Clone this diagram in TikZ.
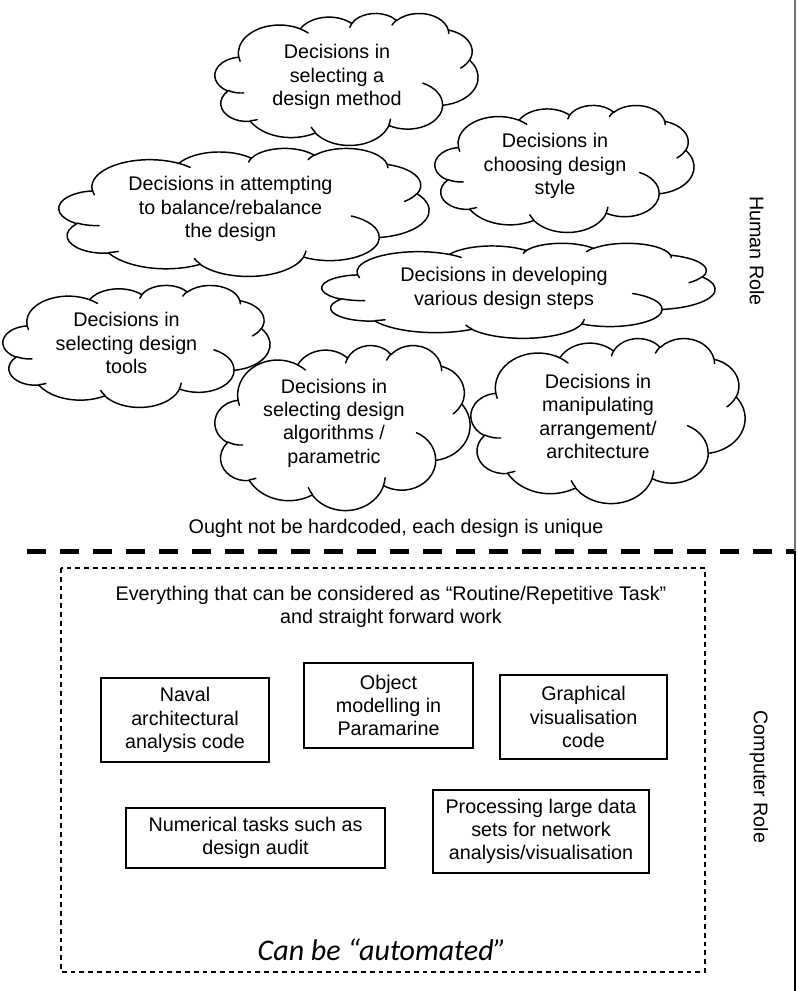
\documentclass[tikz,border=0pt]{standalone}
\usepackage{fontspec}
\setmainfont{Liberation Sans}
\newfontfamily\carlito{Carlito}

% convert a "visual" ellipse angle into the parametric angle used by TikZ arcs
\tikzset{
  declare function={
    visang(\xa,\yb,\ang)=atan2(\xa*sin(\ang),\yb*cos(\ang))+360*round((\ang-atan2(\xa*sin(\ang),\yb*cos(\ang)))/360);
  },
  cloudline/.style={line width=1.1pt, line join=round, line cap=round},
  txt/.style={align=center, inner sep=0pt, font=\fontsize{14.8}{17.5}\selectfont},
  taskbox/.style={draw, line width=1pt, align=center, inner sep=0pt,
    font=\fontsize{14.8}{17.5}\selectfont},
  bigdash/.style={line width=3.75pt, dash pattern=on 14.25pt off 10.5pt},
  smalldash/.style={line width=0.8pt, dash pattern=on 3.6pt off 3pt},
}

% elliptic arc segment: x radius, y radius, start angle, sweep
\newcommand\parc[4]{arc[x radius=#1,y radius=#2,start angle={visang(#1,#2,#3)},end angle={visang(#1,#2,#3+#4)}]}

% thought cloud fitted into the box (x0,y0)-(x1,y1)
\newcommand\thoughtcloud[4]{%
  \begin{scope}[shift={(#1,#2)},xscale={(#3-#1)/100},yscale={(#4-#2)/100}]
    \draw[cloudline,fill=white] (9.028,33.264)
      \parc{15.632}{21.273}{-190.4875}{123.7805}
      \parc{12.345}{16.822}{-144.1024}{89.9452}
      \parc{10.104}{13.762}{-145.8079}{99.7230}
      \parc{11.243}{15.266}{-130.9861}{117.2417}
      \parc{12.345}{16.836}{-78.7089}{109.0269}
      \parc{15.683}{21.343}{-46.2673}{130.2690}
      \parc{13.391}{18.211}{0.6250}{114.0333}
      \parc{15.630}{21.331}{22.4516}{115.1726}
      \parc{17.870}{24.405}{66.2426}{75.7110}
      \parc{10.093}{13.699}{-274.9421}{146.7356}
      \parc{10.058}{13.762}{-246.8285}{152.5189}
      -- cycle;
    \draw[cloudline]
      (10.864,60.595) \parc{10.058}{13.762}{86.7420}{26.4295}
      (16.037,80.785) \parc{10.093}{13.699}{73.6105}{11.4475}
      (38.144,90.486) \parc{15.630}{21.331}{137.6242}{14.0811}
      (66.729,80.442) \parc{15.630}{21.331}{6.4533}{15.9984}
      (79.002,53.134) \parc{13.391}{18.211}{-70.2924}{70.9174}
      (96.755,35.542) \parc{12.345}{16.836}{30.3180}{27.7515}
      (88.713,12.560) \parc{11.243}{15.266}{-13.7443}{14.8589}
      (67.310,9.148) \parc{11.243}{15.266}{-149.1815}{18.1954}
      (51.252,10.926) \parc{10.104}{13.762}{-163.4943}{17.6864}
      (32.407,12.019) \parc{15.632}{21.273}{-66.7070}{12.3194}
      (9.553,36.549) \parc{15.632}{21.273}{157.6544}{11.8582};
  \end{scope}}

\begin{document}
\begin{tikzpicture}[x=0.75pt,y=-0.75pt]
  \useasboundingbox (0,0) rectangle (797,991);

  % ---- human decisions (clouds) ----
  \thoughtcloud{215}{13}{478}{145}
  \thoughtcloud{435}{105}{694}{232}
  \thoughtcloud{59}{148}{429}{276}
  \thoughtcloud{322}{243}{715}{338}
  \thoughtcloud{3}{285}{270}{407}
  \thoughtcloud{215}{345}{470}{510}
  \thoughtcloud{471}{338}{745}{503}

  \node[txt] (method) at (337,77) {Decisions in\\selecting a\\design method};
  \node[txt] (style) at (555,166) {Decisions in\\choosing design\\style};
  \node[txt] (balance) at (230.5,209) {Decisions in attempting\\to balance/rebalance\\the design};
  \node[txt] (steps) at (504,288.5) {Decisions in developing\\various design steps};
  \node[txt] (tools) at (126.5,343) {Decisions in\\selecting design\\tools};
  \node[txt] (algo) at (334,423) {Decisions in\\selecting design\\algorithms /\\parametric};
  \node[txt] (arrange) at (598,416.5) {Decisions in\\manipulating\\arrangement/\\architecture};

  \node[txt] (unique) at (396,528) {Ought not be hardcoded, each design is unique};

  % ---- divider between the two roles ----
  \coordinate (divL) at (27,551);
  \coordinate (divR) at (795,551);
  \draw[bigdash] (divL) -- (divR);

  % right-hand frame line
  \coordinate (frameTop) at (795,0);
  \coordinate (frameMid) at (795,551);
  \coordinate (frameBot) at (795,991);
  \draw[line width=0.8pt, black!55] (frameTop) -- (frameMid);
  \draw[line width=2.2pt] (frameMid) -- (frameBot);

  \node[txt, rotate=-90] (human) at (757,251) {Human Role};
  \node[txt, rotate=-90] (computer) at (759,777) {Computer Role};

  % ---- computer tasks ----
  \coordinate (autoNW) at (61,568);
  \coordinate (autoSE) at (705,972);
  \draw[smalldash] (autoNW) rectangle (autoSE);

  \node[txt] (routine) at (391,607) {Everything that can be considered as “Routine/Repetitive Task”\\and straight forward work};

  \node[taskbox, minimum width=126pt, minimum height=63pt] (naval) at (185,720) {Naval\\architectural\\analysis code};
  \node[taskbox, minimum width=126.75pt, minimum height=63.75pt] (object) at (388.5,705.5) {Object\\modelling in\\Paramarine};
  \node[taskbox, minimum width=125.25pt, minimum height=63pt] (graph) at (583.5,717) {Graphical\\visualisation\\code};
  \node[taskbox, minimum width=194.25pt, minimum height=45pt] (numeric) at (255.5,838) {Numerical tasks such as\\design audit};
  \node[taskbox, minimum width=162pt, minimum height=62.25pt] (bigdata) at (541,831.5) {Processing large data\\sets for network\\analysis/visualisation};

  \node[inner sep=0pt, font=\carlito\itshape\fontsize{22.5}{27}\selectfont] (automated) at (382,950) {Can be “automated”};
\end{tikzpicture}
\end{document}
